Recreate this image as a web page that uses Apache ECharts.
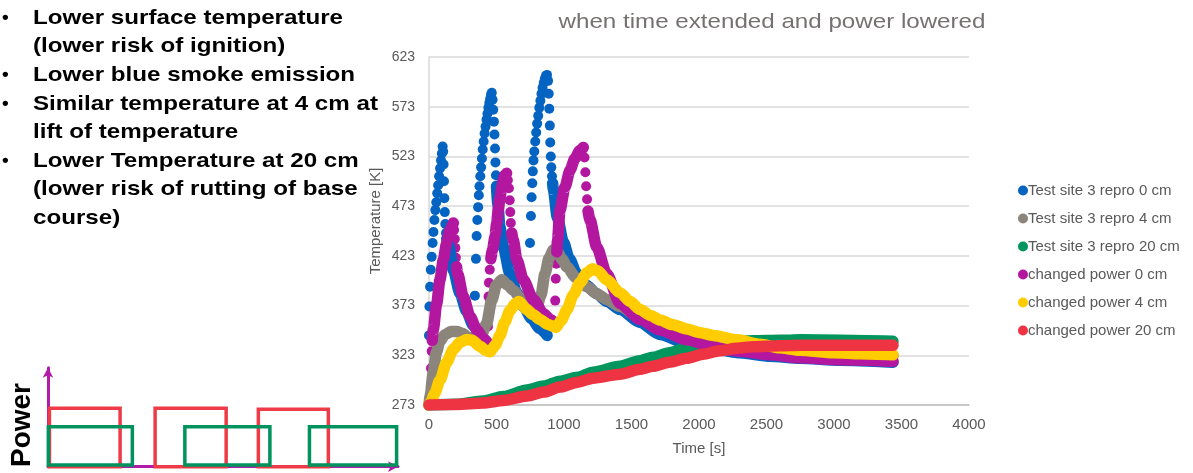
<!DOCTYPE html>
<html><head><meta charset="utf-8">
<script src="https://cdn.jsdelivr.net/npm/echarts@6/dist/echarts.min.js"></script>
<style>html,body{margin:0;padding:0;background:#fff}#c{width:1193px;height:473px}</style>
</head><body><div id="c"></div>
<script>
// ---------------- data ----------------
const seriesNames = ['Test site 3 repro 0 cm','Test site 3 repro 4 cm','Test site 3 repro 20 cm','changed power 0 cm','changed power 4 cm','changed power 20 cm'];
const xTickLabels = [0,500,1000,1500,2000,2500,3000,3500,4000];
const yTickLabels = [273,323,373,423,473,523,573,623];

// Test site 3 repro 0 cm : isolated dots (fast changes) and dense bands
const site0Dots = [
 [0,343],[3,372],[8,392],[13,409],[20,422],[27,436],[33,447],[40,459],[47,469],[54,477],[61,486],[68,494],[75,503],[82,511],[89,519],[95,526],[101,533],
 [105,528],[108,515],[111,498],[114,481],[117,467],[121,455],[126,446],[131,440],
 [340,383],[348,420],[353,443],[358,459],[364,472],[369,484],[374,493],[380,503],[386,512],[392,521],[398,530],[405,538],[412,546],[419,553],[426,560],[433,566],[440,572],[447,577],[453,581],[459,585],[465,587],
 [471,580],[476,570],[481,558],[485,545],[489,531],[492,517],[496,504],[500,493],
 [748,436],[755,463],[760,482],[765,496],[769,508],[774,519],[780,528],[787,538],[794,547],[801,556],[809,564],[817,572],[825,579],[833,586],[841,592],[850,597],[858,601],[866,604],[874,605],
 [882,599],[887,586],[891,571],[895,554],[898,537],[902,523],[906,512],[911,503],[916,496]
];
const site0Bands = [
 [[131,440],[143,435],[180,409],[230,385],[279,367],[328,353],[378,345],[402,340]],
 [[500,493],[510,475],[525,452],[550,432],[600,405],[650,386],[700,372],[760,360],[820,350],[875,343]],
 [[916,496],[921,490],[950,462],[995,437],[1040,420],[1094,405],[1160,394],[1242,385],[1320,377],[1415,369],[1563,356],[1711,344],[1909,335],[2106,329.5],[2304,325.5],[2526,322],[2748,320],[3044,318],[3437,316]]
];
const site4 = [[0,273],[10,283],[30,305],[55,326],[80,337],[120,344],[165,347],[205,347],[250,345],[290,341],[340,339],[390,344],[427,355],[464,378],[501,394],[538,399],[580,394],[624,388.5],[674,381],[724,375],[770,371.5],[800,372],[830,384],[859,405],[890,421],[921,429],[950,427],[990,419],[1020,412],[1090,401],[1168,392],[1242,385],[1316,379],[1415,372],[1563,361],[1711,351],[1909,341],[2106,334],[2304,329],[2526,326],[2748,324.5],[3044,323.5],[3437,322.5]];
const site20 = [[0,273],[200,273.8],[400,277],[550,281.5],[726,288],[850,292],[970,297],[1100,301],[1215,306],[1415,312],[1563,317.5],[1659,321],[1780,325.5],[1909,330],[2030,333],[2155,335.5],[2280,337],[2400,337.5],[2600,338],[2748,338.5],[3044,338],[3437,337]];

// changed power 0 cm
const changed0Dots = [
 [15,310],[20,327],[24,338],
 [186,449],[191,440],[195,431],[199,421],[204,412],
 [437,352],[441,382],[444,396],[450,409],[458,420],
 [584,499],[592,491],[598,479],[602,467],[606,456],[613,446],
 [935,378],[939,400],[943,415],[947,427],
 [1152,522],[1158,507],[1164,493],[1171,480],[1178,468]
];
const changed0Bands = [
 [[24,338],[32,349],[57,375],[81,399],[106,419],[131,436],[156,449],[180,456]],
 [[204,412],[212,405],[254,382],[304,362],[354,348.5],[402,340],[437,335]],
 [[458,420],[470,429],[490,443],[501,456],[514,470],[526,482],[538,491],[550,499],[562,504],[575,506]],
 [[613,446],[624,439],[651,419],[699,399],[773,379],[847,365],[900,359],[933,355]],
 [[947,427],[952,439],[970,469],[1007,492],[1044,509],[1081,521],[1118,529],[1143,532]],
 [[1178,468],[1193,459],[1242,432],[1316,405],[1415,375],[1563,359],[1711,348.5],[1909,338.5],[2106,332],[2304,327],[2526,323.5],[2748,320.5],[3044,318.5],[3437,317]]
];
const changed4 = [[0,273],[15,276],[40,284],[81,298],[131,316],[180,329],[230,336],[280,339],[320,338],[378,332],[420,328],[452,326.5],[490,333],[526,343],[560,356],[600,368],[640,375],[665,377],[724,369],[770,364],[822,359],[880,354],[940,351],[980,358],[1020,368.5],[1070,384],[1118,396],[1170,406],[1212,410],[1250,408],[1316,399],[1415,386],[1490,377],[1563,369],[1640,363],[1711,358.5],[1800,354],[1909,349.5],[2000,346],[2106,343],[2279,338.5],[2452,334],[2600,330.5],[2748,328],[3000,325.5],[3200,324.5],[3437,323.5]];
const changed20 = [[0,273],[200,273.5],[400,275],[550,277.5],[726,282],[850,286],[970,291],[1100,296],[1215,300],[1415,304],[1563,309],[1659,312],[1780,316],[1909,320],[2030,324],[2155,327.5],[2280,330],[2400,331.5],[2600,332.5],[2748,333],[3044,333],[3437,333]];

// schematic power diagram: [start, end, bottom level, top level]
const powerRedBlocks = [[0.4,20.6,0,5.9],[30.6,50.9,0,5.9],[60.1,80.1,0,5.8]];
const powerGreenBlocks = [[0.1,24.1,0.17,4.04],[39.1,63.4,0.17,4.04],[74.7,99.6,0.17,4.04]];

const bulletLines = [
 ['\u2022','Lower surface temperature'],
 ['','(lower risk of ignition)'],
 ['\u2022','Lower blue smoke emission'],
 ['\u2022','Similar temperature at 4 cm at'],
 ['','lift of temperature'],
 ['\u2022','Lower Temperature at 20 cm'],
 ['','(lower risk of rutting of base'],
 ['','course)']
];

// ---------------- styling ----------------
const FONT = '"Liberation Sans", Arial, sans-serif';
const C = {blue:'#0563C1', gray:'#8C857B', green:'#00965E', magenta:'#B4179F', yellow:'#FFCC00', red:'#EE3342'};
const seriesColors = [C.blue, C.gray, C.green, C.magenta, C.yellow, C.red];
const BAND_W = 11.5, DOT = 10;

function band(name, color, data) {
  return {type:'line', name, data, xAxisIndex:0, yAxisIndex:0, symbol:'none', smooth:0.25, smoothMonotone:'x',
    lineStyle:{color, width:BAND_W, cap:'round', join:'round'}, itemStyle:{color}, silent:true, animation:false};
}
function dots(name, color, data) {
  return {type:'scatter', name, data, xAxisIndex:0, yAxisIndex:0, symbol:'circle', symbolSize:DOT,
    itemStyle:{color, opacity:1}, silent:true, animation:false};
}
function blocks(color, data) {
  return {type:'custom', xAxisIndex:1, yAxisIndex:1, data, silent:true, clip:false, animation:false,
    renderItem:(params, api) => {
      const a = api.coord([api.value(0), api.value(3)]);
      const b = api.coord([api.value(1), api.value(2)]);
      return {type:'rect', shape:{x:a[0], y:a[1], width:b[0]-a[0], height:b[1]-a[1]},
        style:{fill:'none', stroke:color, lineWidth:3.5}};
    }};
}

const series = [];
site0Bands.forEach(s => series.push(band(seriesNames[0], C.blue, s)));
series.push(dots(seriesNames[0], C.blue, site0Dots));
series.push(band(seriesNames[1], C.gray, site4));
series.push(band(seriesNames[2], C.green, site20));
changed0Bands.forEach(s => series.push(band(seriesNames[3], C.magenta, s)));
series.push(dots(seriesNames[3], C.magenta, changed0Dots));
series.push(band(seriesNames[4], C.yellow, changed4));
series.push(band(seriesNames[5], C.red, changed20));
series.push(blocks('#EF3A47', powerRedBlocks));
series.push(blocks('#00935E', powerGreenBlocks));

const graphic = [];
bulletLines.forEach((l, i) => {
  const y = 18 + i * 28.6;
  if (l[0]) graphic.push({type:'text', x:2, y, style:{text:l[0], font:'bold 19px ' + FONT, fill:'#000', verticalAlign:'middle'}});
  graphic.push({type:'text', x:33, y, scaleX:1.15, style:{text:l[1], font:'bold 21px ' + FONT, fill:'#000', verticalAlign:'middle'}});
});
graphic.push({type:'text', x:772, y:22, scaleX:1.15, style:{text:'when time extended and power lowered', font:'21px ' + FONT, fill:'#767171', align:'center', verticalAlign:'middle'}});
graphic.push({type:'text', x:22, y:425, rotation:Math.PI/2, style:{text:'Power', font:'bold 28px ' + FONT, fill:'#000', align:'center', verticalAlign:'middle'}});

const option = {
  animation:false,
  backgroundColor:'#fff',
  textStyle:{fontFamily:FONT},
  grid:[
    {left:429, top:57, width:540, height:348},
    {left:48, top:367.7, width:350, height:99}
  ],
  xAxis:[
    {type:'value', gridIndex:0, min:xTickLabels[0], max:xTickLabels[xTickLabels.length-1], interval:xTickLabels[1]-xTickLabels[0],
     name:'Time [s]', nameLocation:'middle', nameGap:36, nameTextStyle:{color:'#595959', fontSize:15, fontFamily:FONT},
     axisLine:{show:true, lineStyle:{color:'#BFBFBF', width:1.5}}, axisTick:{show:false},
     axisLabel:{color:'#595959', fontSize:15, margin:12, fontFamily:FONT, formatter:v => String(v)}, splitLine:{show:false}},
    {type:'value', gridIndex:1, min:0, max:100, show:true,
     axisLine:{show:true, onZero:false, symbol:['none','arrow'], symbolSize:[8,10], lineStyle:{color:'#B21AAA', width:3}},
     axisTick:{show:false}, axisLabel:{show:false}, splitLine:{show:false}}
  ],
  yAxis:[
    {type:'value', gridIndex:0, min:yTickLabels[0], max:yTickLabels[yTickLabels.length-1], interval:yTickLabels[1]-yTickLabels[0],
     name:'Temperature [K]', nameLocation:'middle', nameGap:46, nameTextStyle:{color:'#595959', fontSize:15, fontFamily:FONT, padding:[0,0,0,20]},
     axisLine:{show:true, lineStyle:{color:'#D9D9D9', width:1.5}}, axisTick:{show:false},
     axisLabel:{color:'#595959', fontSize:14, margin:14, fontFamily:FONT, formatter:v => String(v)},
     splitLine:{show:true, lineStyle:{color:'#D9D9D9', width:1.5}}},
    {type:'value', gridIndex:1, min:0, max:10,
     axisLine:{show:true, onZero:false, symbol:['none','arrow'], symbolSize:[8,10], lineStyle:{color:'#B21AAA', width:3}},
     axisTick:{show:false}, axisLabel:{show:false}, splitLine:{show:false}}
  ],
  legend:{
    orient:'vertical', left:1013, top:178, itemWidth:10, itemHeight:10, itemGap:13,
    icon:'circle', selectedMode:false,
    data:seriesNames.map((n,i)=>({name:n, icon:'circle', itemStyle:{color:seriesColors[i]}})),
    textStyle:{color:'#595959', fontSize:15, fontFamily:FONT, padding:[0,0,0,-5], lineHeight:15}
  },
  graphic,
  series
};
const chart = echarts.init(document.getElementById('c'));
chart.setOption(option);
</script></body></html>
